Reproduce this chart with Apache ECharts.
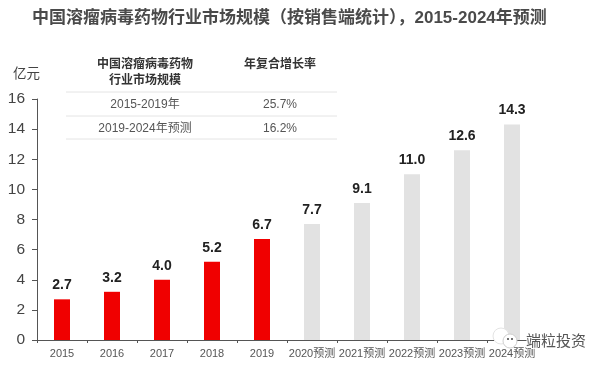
<!DOCTYPE html>
<html>
<head>
<meta charset="utf-8">
<style>
  html, body { margin: 0; padding: 0; background: #fff; }
  #container { width: 604px; height: 367px; }
</style>
<script src="https://cdn.jsdelivr.net/npm/echarts@6/dist/echarts.min.js"></script>
</head>
<body>
<div id="container"></div>
<script>
const categories = ['2015', '2016', '2017', '2018', '2019', '2020预测', '2021预测', '2022预测', '2023预测', '2024预测'];
const values = [2.7, 3.2, 4.0, 5.2, 6.7, 7.7, 9.1, 11.0, 12.6, 14.3];
const barColors = ['#f00000', '#f00000', '#f00000', '#f00000', '#f00000', '#e2e2e2', '#e2e2e2', '#e2e2e2', '#e2e2e2', '#e2e2e2'];
const yTicks = [0, 2, 4, 6, 8, 10, 12, 14, 16];
const tableRows = [
  ['2015-2019年', '25.7%'],
  ['2019-2024年预测', '16.2%']
];

const fontName = '"Liberation Sans", "Noto Sans CJK SC", sans-serif';

const chart = echarts.init(document.getElementById('container'), null, { renderer: 'canvas' });

function tableText(x, y, text, bold) {
  return {
    type: 'text', x: x, y: y,
    style: {
      text: text, fill: bold ? '#333' : '#555', align: 'center', verticalAlign: 'middle',
      font: (bold ? 'bold ' : '') + '12px ' + fontName
    }
  };
}

function tableLine(y) {
  return {
    type: 'line',
    shape: { x1: 66, y1: y, x2: 337, y2: y },
    style: { stroke: '#e4e4e4', lineWidth: 1 }
  };
}

const graphics = [
  tableText(145, 65, '中国溶瘤病毒药物', true),
  tableText(145, 81, '行业市场规模', true),
  tableText(280, 65, '年复合增长率', true),
  tableLine(92),
  tableLine(116),
  tableLine(139),
  // watermark
  { type: 'circle', z: 50, shape: { cx: 501, cy: 336, r: 8 }, style: { fill: '#fff', stroke: '#e4e4e4', lineWidth: 1 } },
  { type: 'circle', z: 51, shape: { cx: 510, cy: 341, r: 7 }, style: { fill: '#fff', stroke: '#cfcfcf', lineWidth: 1 } },
  { type: 'circle', z: 52, shape: { cx: 508, cy: 339, r: 1 }, style: { fill: '#444' } },
  { type: 'circle', z: 52, shape: { cx: 512, cy: 339, r: 1 }, style: { fill: '#444' } },
  { type: 'text', z: 52, x: 526, y: 340, style: { text: '端粒投资', fill: '#555', stroke: '#fff', lineWidth: 2, verticalAlign: 'middle', font: '15px "Noto Sans CJK SC", sans-serif' } }
];
tableRows.forEach(function (row, i) {
  const y = 105 + i * 23.5;
  graphics.push(tableText(145, y, row[0], false));
  graphics.push(tableText(280, y, row[1], false));
});

chart.setOption({
  animation: false,
  backgroundColor: '#fff',
  title: {
    text: '中国溶瘤病毒药物行业市场规模（按销售端统计），2015-2024年预测',
    left: 27, top: 5,
    textStyle: { color: '#4a4a4a', fontSize: 17, fontWeight: 'bold', fontFamily: fontName }
  },
  grid: { left: 37, right: 67, top: 99, bottom: 27 },
  xAxis: {
    type: 'category',
    data: categories,
    axisLine: { lineStyle: { color: '#555', width: 1 } },
    axisTick: { show: true, alignWithLabel: false, length: 3, lineStyle: { color: '#555' } },
    axisLabel: { color: '#555', fontSize: 11, margin: 8, interval: 0, fontFamily: fontName }
  },
  yAxis: {
    type: 'value',
    min: yTicks[0],
    max: yTicks[yTicks.length - 1],
    interval: 2,
    name: '亿元',
    nameLocation: 'end',
    nameGap: 18,
    nameTextStyle: { color: '#444', fontSize: 13.5, align: 'right', padding: [0, -3, 0, 0], fontFamily: fontName },
    axisLine: { show: true, lineStyle: { color: '#555', width: 1 } },
    axisTick: { show: true, length: 5, lineStyle: { color: '#555' } },
    axisLabel: { color: '#444', fontSize: 15.5, margin: 12, fontFamily: fontName },
    splitLine: { show: false }
  },
  series: [{
    type: 'bar',
    barWidth: 16,
    data: values.map(function (v, i) {
      return { value: v, itemStyle: { color: barColors[i] } };
    }),
    label: {
      show: true,
      position: 'top',
      distance: 7,
      color: '#222',
      fontSize: 14,
      fontWeight: 'bold',
      fontFamily: fontName,
      formatter: function (p) { return p.value.toFixed(1); }
    }
  }],
  graphic: { elements: graphics }
});
</script>
</body>
</html>
